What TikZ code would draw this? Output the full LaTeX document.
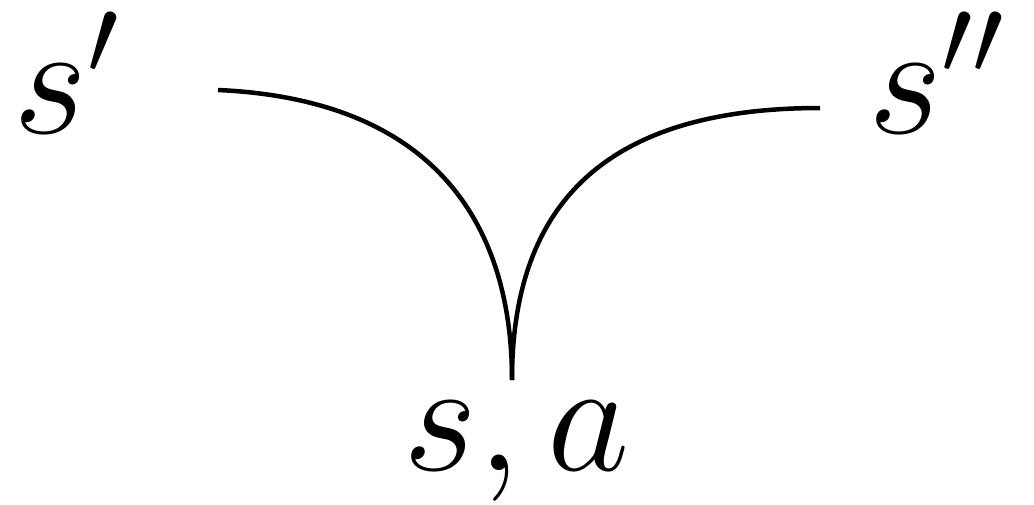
\RequirePackage{fix-cm}
\documentclass[tikz,border=0pt]{standalone}
\tikzset{lbl/.style={inner sep=0pt, font=\fontsize{160}{160}\selectfont},
  arc/.style={line width=4.5pt}}
\begin{document}
\begin{tikzpicture}[x=1pt,y=-1pt]
\useasboundingbox (0,0) rectangle (1034,504);
\node[lbl, anchor=base] (s1) at (66,133) {$s'$};
\node[lbl, anchor=base] (s2) at (936,133) {$s''$};
\node[lbl, anchor=base] (sa) at (517,470) {$s,a$};
\coordinate (l) at (218,90);
\coordinate (r) at (820,108);
\coordinate (b) at (512,380);
\draw[arc] (l) .. controls (440,100) and (512,230) .. (b);
\draw[arc] (r) .. controls (610,108) and (512,200) .. (b);
\end{tikzpicture}
\end{document}
